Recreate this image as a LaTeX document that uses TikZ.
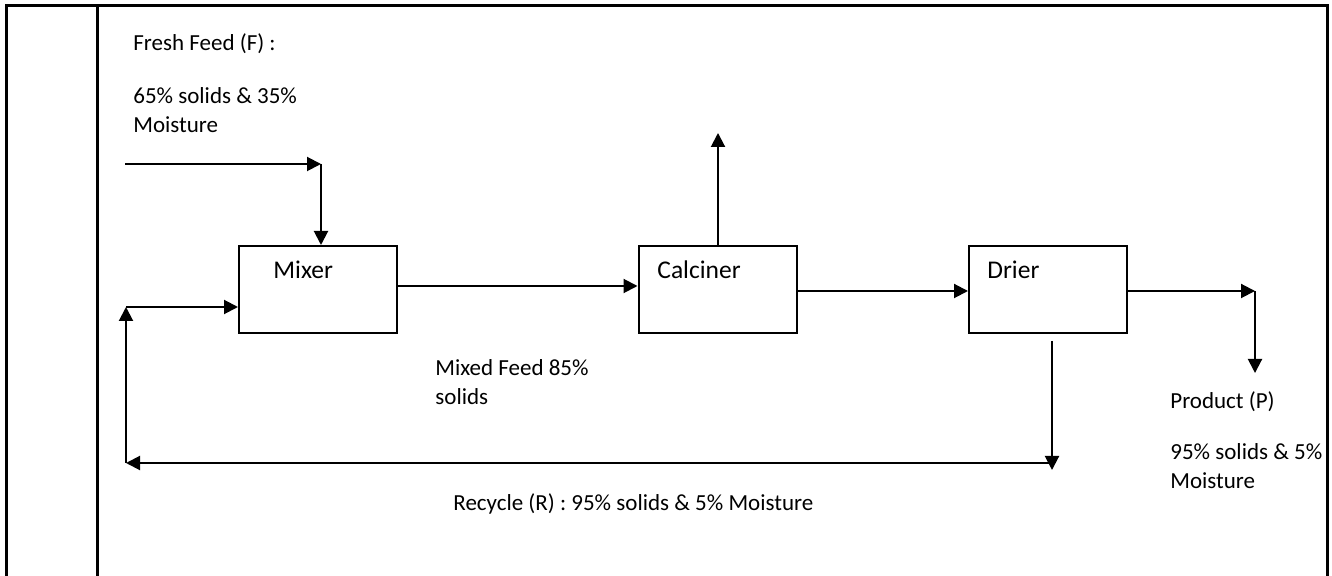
\documentclass[tikz,border=0pt]{standalone}
\usepackage{fontspec}
\setmainfont{Carlito}
\usetikzlibrary{arrows.meta}
\begin{document}
\begin{tikzpicture}[x=0.5pt,y=-0.5pt,
  unit/.style={draw, line width=1pt, minimum width=79pt, minimum height=43.5pt, inner sep=0pt},
  flow/.style={line width=1pt, -{Triangle[length=7pt,width=7pt]}},
  frame/.style={line width=1.5pt},
  note/.style={anchor=north west, align=left, inner sep=0pt, font=\fontsize{11.5}{14.5}\selectfont},
  uname/.style={anchor=base west, inner sep=0pt, font=\fontsize{12.75}{15}\selectfont}]
  \useasboundingbox (0,0) rectangle (1332,576);
  \draw[frame] (6,576) -- (6,6) -- (1327,6) -- (1327,576);
  \draw[frame] (97,6) -- (97,576);
  \node[unit] (mixer) at (318,289.5) {};
  \node[unit] (calciner) at (717.5,289.5) {};
  \node[unit] (drier) at (1048,289.5) {};
  \node[uname] (mixerlbl) at (273,279) {Mixer};
  \node[uname] (calcinerlbl) at (657,279) {Calciner};
  \node[uname] (drierlbl) at (987,279) {Drier};
  \node[note] (feedlbl) at (133,33) {Fresh Feed (F) :\\[12pt]65\% solids \& 35\%\\Moisture};
  \node[note] (mixedlbl) at (435,359) {Mixed Feed 85\%\\solids};
  \node[note] (prodlbl) at (1170,391) {Product (P)\\[11pt]95\% solids \& 5\%\\Moisture};
  \node[note, anchor=base west] (reclbl) at (453,510) {Recycle (R) : 95\% solids \& 5\% Moisture};
  \coordinate (feedin) at (125,164);
  \coordinate (feedbend) at (321,164);
  \coordinate (ventout) at (718,133);
  \coordinate (prodbend) at (1255,291);
  \coordinate (prodout) at (1255,373);
  \coordinate (recdrop) at (1052,470);
  \coordinate (recright) at (1052,463);
  \coordinate (recleft) at (126,463);
  \coordinate (recup) at (126,307);
  \draw[flow] (feedin) -- (feedbend);
  \draw[flow] (feedbend) -- (feedbend |- mixer.north);
  \draw[flow] ([yshift=1.75pt]mixer.east) -- ([yshift=1.75pt]calciner.west);
  \draw[flow] (ventout |- calciner.north) -- (ventout);
  \draw[flow] ([yshift=-0.75pt]calciner.east) -- ([yshift=-0.75pt]drier.west);
  \draw[flow] ([yshift=-0.75pt]drier.east) -- (prodbend);
  \draw[flow] (prodbend) -- (prodout);
  \draw[flow, shorten <=3.5pt] (recdrop |- drier.south) -- (recdrop);
  \draw[flow] (recright) -- (recleft);
  \draw[flow] (recleft) -- (recup);
  \draw[flow] (recup) -- (recup -| mixer.west);
\end{tikzpicture}
\end{document}
